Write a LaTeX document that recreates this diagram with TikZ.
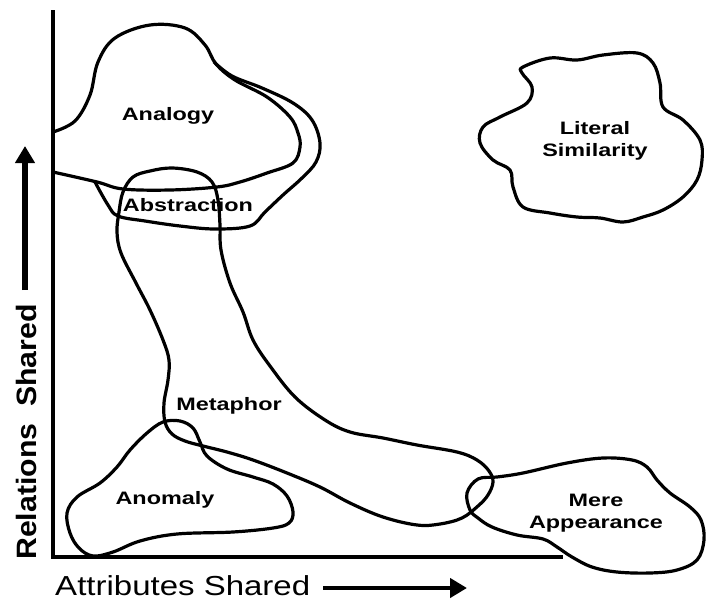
\documentclass[tikz,border=0pt]{standalone}
\usepackage{fontspec}
\setmainfont{Liberation Sans}
\usetikzlibrary{arrows.meta}
\begin{document}
\begin{tikzpicture}[x=1pt,y=-1pt,
  blob/.style={line width=3.2pt,line join=round,line cap=round},
  axisline/.style={line width=3.4pt},
  lbl/.style={font=\fontsize{18}{22.5}\selectfont\bfseries,xscale=1.3,inner sep=0pt,align=center},
  bigarrow/.style={line width=5.5pt,-{Triangle[length=17pt,width=19pt]}}]
\useasboundingbox (0,0) rectangle (707,600);
% axes
\coordinate (ytop) at (53,10);
\coordinate (orig) at (53,557);
\coordinate (xend) at (563,557);
\draw[axisline] (ytop) -- (orig) -- (xend);
% Analogy
\draw[blob] plot[smooth,tension=0.6] coordinates {(53,132) (75,121) (90,95) (98,62) (115,38) (150,25) (185,28) (205,45) (216,64) (235,80) (267,97) (290,117) (298,133) (300,147) (293,163) (267,173) (240,182) (217,187) (170,190) (123,189) (97,182) (53,172)};
% Abstraction
\draw[blob] plot[smooth,tension=0.6] coordinates {(214,62) (232,76) (262,88) (293,103) (312,120) (320,143) (316,162) (302,178) (283,195) (265,212) (250,226) (215,229) (180,226) (145,221) (118,216) (108,205) (95,182)};
% Metaphor
\draw[blob] plot[smooth cycle,tension=0.6] coordinates {(123,192) (133,177) (150,171) (172,168) (197,172) (212,182) (218,200) (220,225) (221,250) (230,283) (243,312) (253,340) (270,366) (295,397) (325,420) (350,432) (383,438) (417,445) (457,452) (477,460) (489,471) (493,482) (488,495) (478,506) (462,518) (440,524) (417,525) (383,517) (350,503) (320,487) (287,473) (253,460) (227,452) (203,446) (185,441) (172,434) (165,422) (164,403) (168,380) (169,360) (163,340) (150,310) (136,283) (121,253) (117,232) (119,212)};
% Anomaly
\draw[blob] plot[smooth cycle,tension=0.6] coordinates {(163,422) (180,421) (193,428) (200,442) (207,456) (227,469) (253,477) (273,484) (287,496) (293,512) (289,523) (273,528) (233,532) (177,534) (140,541) (113,552) (93,556) (79,548) (70,533) (67,513) (77,497) (100,483) (117,467) (130,450) (147,433)};
% Mere Appearance
\draw[blob] plot[smooth cycle,tension=0.6] coordinates {(467,493) (470,510) (478,518) (492,527) (517,535) (543,539) (557,547) (572,557) (592,567) (617,572) (650,573) (677,570) (697,560) (704,540) (701,520) (690,507) (670,493) (657,480) (647,467) (632,460) (603,458) (567,463) (523,473) (497,477) (478,479)};
% Literal Similarity
\draw[blob] plot[smooth cycle,tension=0.6] coordinates {(523,67) (550,58) (577,60) (603,55) (637,53) (653,63) (660,83) (663,107) (683,120) (700,140) (702,160) (697,180) (683,197) (663,210) (643,217) (623,222) (600,218) (577,217) (550,213) (523,207) (513,187) (510,170) (493,160) (480,143) (483,127) (500,117) (527,103) (532,87) (522,73)};
% labels
\node[lbl] (analogy) at (168,116) {Analogy};
\node[lbl] (abstraction) at (188,205) {Abstraction};
\node[lbl] (metaphor) at (229,406) {Metaphor};
\node[lbl] (anomaly) at (165,500) {Anomaly};
\node[lbl] (mere) at (596,513) {Mere\\Appearance};
\node[lbl] (literal) at (595,141) {Literal\\Similarity};
% axis titles
\node[font=\fontsize{28}{30}\selectfont\bfseries,rotate=90,xscale=1.08,inner sep=0pt] (ylab) at (26,432) {Relations\ \ Shared};
\node[font=\fontsize{27.5}{30}\selectfont,xscale=1.2,inner sep=0pt,anchor=base west] (xlab) at (55,595) {Attributes Shared};
% arrows
\coordinate (ya) at (25,290);
\coordinate (yb) at (25,146);
\draw[bigarrow] (ya) -- (yb);
\coordinate (xa) at (323,588);
\coordinate (xb) at (467,588);
\draw[bigarrow,line width=4.5pt] (xa) -- (xb);
\end{tikzpicture}
\end{document}
